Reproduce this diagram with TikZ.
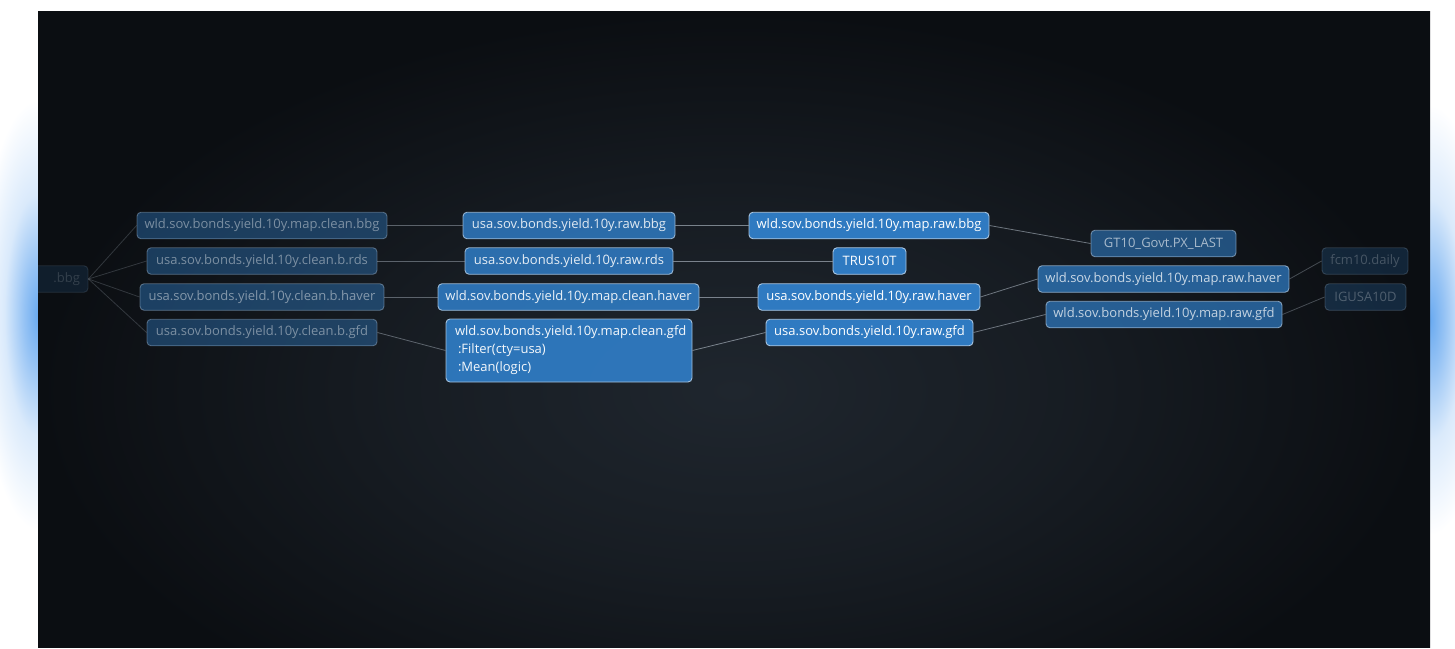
\documentclass[tikz,border=0pt]{standalone}
\usepackage{fontspec}
\setmainfont{Open Sans}
\definecolor{nodefill}{HTML}{2F7AC1}
\definecolor{nodeedge}{HTML}{A9C6E2}
\definecolor{edgecol}{HTML}{8B949E}
\definecolor{panelin}{HTML}{1F262E}
\definecolor{panelout}{HTML}{0B0E12}
\definecolor{glowblue}{HTML}{6AAAF0}
\pgfdeclareradialshading{glowshade}{\pgfpoint{0bp}{0bp}}{color(0bp)=(glowblue); color(6bp)=(glowblue!70!white); color(14bp)=(glowblue!25!white); color(25bp)=(white); color(50bp)=(white)}
\pgfdeclareradialshading{panelshade}{\pgfpoint{0bp}{0bp}}{color(0bp)=(panelin); color(12bp)=(panelin!60!panelout); color(25bp)=(panelout); color(50bp)=(panelout)}
\tikzset{
  box/.style={draw=nodeedge, fill=nodefill, rounded corners=4pt, line width=0.9pt,
    text=white, font=\fontsize{13}{18}\selectfont, inner sep=0pt,
    minimum height=26.5pt, anchor=center},
  link/.style={draw=edgecol, line width=0.8pt},
}
\begin{document}
\begin{tikzpicture}[x=1pt,y=-1pt]
\useasboundingbox (0,0) rectangle (1455,648);
\fill[white] (0,0) rectangle (1455,648);
% side glows
\shade[shading=glowshade] (38,315) ellipse [x radius=60pt, y radius=215pt];
\shade[shading=glowshade] (1430,320) ellipse [x radius=60pt, y radius=215pt];
% panel
\fill[panelout] (38,11) rectangle (1430,647);
\begin{scope}
\clip (38,11) rectangle (1430,647);
\shade[shading=panelshade] (38,11) rectangle (1430,770);

% column 0
\node[box, minimum width=68pt, text width=52pt, align=right, inner xsep=8pt, opacity=0.15] (L) at (54,279) {.bbg};
% column 1
\node[box, minimum width=250pt, opacity=0.42] (A1) at (262,225.5) {wld.sov.bonds.yield.10y.map.clean.bbg};
\node[box, minimum width=230pt, opacity=0.42] (A2) at (262,261) {usa.sov.bonds.yield.10y.clean.b.rds};
\node[box, minimum width=244pt, opacity=0.45] (A3) at (262,297) {usa.sov.bonds.yield.10y.clean.b.haver};
\node[box, minimum width=230pt, opacity=0.42] (A4) at (262,332.5) {usa.sov.bonds.yield.10y.clean.b.gfd};
% column 2
\node[box, minimum width=212pt, opacity=0.85] (B1) at (569,225.5) {usa.sov.bonds.yield.10y.raw.bbg};
\node[box, minimum width=208pt, opacity=0.88] (B2) at (569,261) {usa.sov.bonds.yield.10y.raw.rds};
\node[box, minimum width=261pt, opacity=0.9] (B3) at (568.5,297) {wld.sov.bonds.yield.10y.map.clean.haver};
\node[box, minimum height=63pt, text width=228pt, inner xsep=9pt, align=left, opacity=0.95] (B4) at (569,350.5)
  {wld.sov.bonds.yield.10y.map.clean.gfd\\\hspace*{3pt}:Filter(cty=usa)\\\hspace*{3pt}:Mean(logic)};
% column 3
\node[box, minimum width=240pt] (C1) at (869,225.5) {wld.sov.bonds.yield.10y.map.raw.bbg};
\node[box, minimum width=73pt] (C2) at (869.5,261) {TRUS10T};
\node[box, minimum width=222pt] (C3) at (869,297) {usa.sov.bonds.yield.10y.raw.haver};
\node[box, minimum width=207pt] (C4) at (869.5,332.5) {usa.sov.bonds.yield.10y.raw.gfd};
% column 4
\node[box, minimum width=145pt, opacity=0.6] (D1) at (1163.5,243.5) {GT10\_Govt.PX\_LAST};
\node[box, minimum width=251pt, opacity=0.75] (D2) at (1163.5,279) {wld.sov.bonds.yield.10y.map.raw.haver};
\node[box, minimum width=236pt, opacity=0.72] (D3) at (1164,314.5) {wld.sov.bonds.yield.10y.map.raw.gfd};
% column 5
\node[box, minimum width=86pt, opacity=0.22] (E1) at (1365,261) {fcm10.daily};
\node[box, minimum width=81pt, opacity=0.25] (E2) at (1365.5,297) {IGUSA10D};

% connectors
\foreach \t in {A1,A2,A3,A4} \draw[link, opacity=0.3] (L.east) -- (\t.west);
\draw[link, opacity=0.6] (A1.east) -- (B1.west);
\draw[link, opacity=0.6] (A2.east) -- (B2.west);
\draw[link, opacity=0.6] (A3.east) -- (B3.west);
\draw[link, opacity=0.6] (A4.east) -- (B4.west);
\draw[link, opacity=0.85] (B1.east) -- (C1.west);
\draw[link, opacity=0.85] (B2.east) -- (C2.west);
\draw[link, opacity=0.85] (B3.east) -- (C3.west);
\draw[link, opacity=0.85] (B4.east) -- (C4.west);
\draw[link, opacity=0.75] (C1.east) -- (D1.west);
\draw[link, opacity=0.75] (C3.east) -- (D2.west);
\draw[link, opacity=0.75] (C4.east) -- (D3.west);
\draw[link, opacity=0.45] (D2.east) -- (E1.west);
\draw[link, opacity=0.45] (D3.east) -- (E2.west);
\end{scope}
\end{tikzpicture}
\end{document}
